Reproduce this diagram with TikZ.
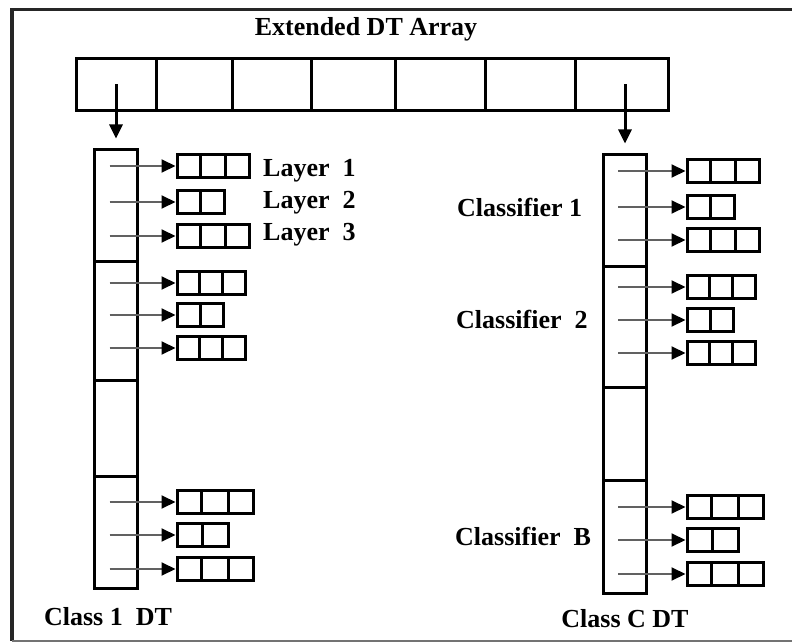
\documentclass[tikz,border=0pt]{standalone}
\usepackage{fontspec}
\setmainfont{Liberation Serif}
\usetikzlibrary{positioning,shapes.multipart,arrows.meta}

\begin{document}
\begin{tikzpicture}[x=1pt, y=-1pt,
        cell/.style={draw, line width=3pt, inner sep=0pt, outer sep=0pt, minimum height=52pt},
        sect/.style={draw, line width=3pt, inner sep=0pt, outer sep=0pt, minimum width=43pt},
        rowbox/.style={draw, line width=3pt, rectangle split, rectangle split horizontal,
            rectangle split parts=#1, rectangle split empty part height=22.5pt,
            rectangle split empty part depth=0pt,
            inner sep=0pt, outer sep=0pt, anchor=west},
        ptr/.style={draw=black!62, line width=2pt, -{Triangle[length=14pt, width=13pt, color=black]}, shorten >=1.5pt},
        topptr/.style={line width=3pt, -{Triangle[length=14pt, width=13pt]}},
        lbl/.style={inner sep=0pt, font=\fontsize{26}{30}\selectfont\bfseries}]

            \useasboundingbox (0,0) rectangle (792,644);

            % Frame, cut off on the right
            \draw[black!85, line width=3.5pt] (792,9.5) -- (12,9.5) -- (12,641);
            \draw[black!55, line width=1.5pt] (12,641) -- (792,641);

            % Extended DT array
            \node[lbl, anchor=base] (title) at (366,36) {Extended DT Array};
            \foreach \a/\b [count=\i] in {76/156, 156/232, 232/311, 311/395, 395/485, 485/575, 575/668}
                \node[cell, minimum width={(\b-\a)*1pt}] (cell\i) at ({(\a+\b)/2},84.5) {};

            % Class 1 DT column
            \node[sect, minimum height=112.5pt, anchor=north] (L1) at (116,149.5) {};
            \node[sect, minimum height=118pt, below=0pt of L1] (L2) {};
            \node[sect, minimum height=96pt, below=0pt of L2] (L3) {};
            \node[sect, minimum height=112.5pt, below=0pt of L3] (L4) {};

            % Class C DT column
            \node[sect, minimum height=112.5pt, anchor=north] (R1) at (625,154.5) {};
            \node[sect, minimum height=120pt, below=0pt of R1] (R2) {};
            \node[sect, minimum height=93pt, below=0pt of R2] (R3) {};
            \node[sect, minimum height=113.5pt, below=0pt of R3] (R4) {};

            % Array cells point to the columns
            \draw[topptr] (cell1.center) -- ([yshift=11pt]L1.north);
            \draw[topptr] (cell7.center -| R1.north) -- ([yshift=11pt]R1.north);

            % Layer lists, left
            \foreach \n/\y/\w [count=\i] in {3/166/17.5, 2/202/17.8, 3/236/17.5, 3/283/16.1, 2/315/17.3, 3/348/16.1,
                                             3/502/18.8, 2/535/19.8, 3/569/18.8}
            {
                \node[rowbox=\n, rectangle split empty part width=\w pt] (lr\i) at (177,\y) {};
                \draw[ptr] ([xshift=15pt]L1.west |- lr\i.west) -- (lr\i.west);
            }

            % Layer lists, right
            \foreach \n/\y/\w [count=\i] in {3/171/17.5, 2/207/17.8, 3/240/17.5, 3/287/16.1, 2/320/17.3, 3/353/16.1,
                                             3/507/18.8, 2/540/19.8, 3/574/18.8}
            {
                \node[rowbox=\n, rectangle split empty part width=\w pt] (rr\i) at (687,\y) {};
                \draw[ptr] ([xshift=14.5pt]R1.west |- rr\i.west) -- (rr\i.west);
            }

            % Labels
            \node[lbl, anchor=base west] (lay1) at (263,177) {Layer~~1};
            \node[lbl, anchor=base west] (lay2) at (263,209) {Layer~~2};
            \node[lbl, anchor=base west] (lay3) at (263,241) {Layer~~3};
            \node[lbl, anchor=base west] (cls1) at (457,217) {Classifier 1};
            \node[lbl, anchor=base west] (cls2) at (456,328) {Classifier~~2};
            \node[lbl, anchor=base west] (clsB) at (455,545) {Classifier~~B};
            \node[lbl, anchor=base] (dtL) at (108,625) {Class 1~~DT};
            \node[lbl, anchor=base] (dtR) at (625,627) {Class C DT};
\end{tikzpicture}
\end{document}
